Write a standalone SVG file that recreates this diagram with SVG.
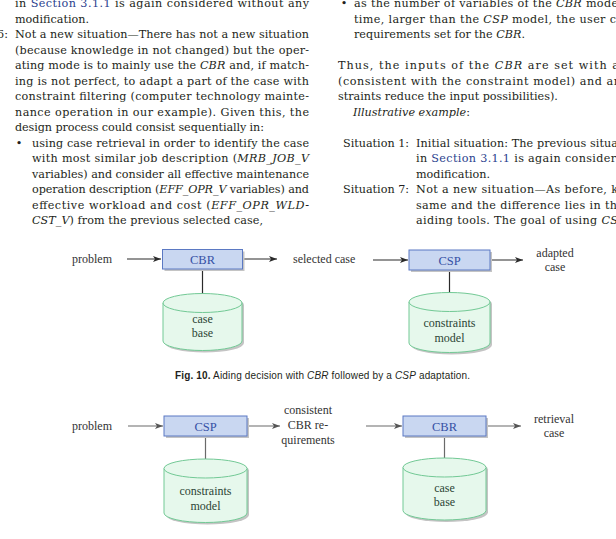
<svg xmlns="http://www.w3.org/2000/svg" width="616" height="539" viewBox="0 0 616 539">
<style>
.b{font-family:"DejaVu Serif","Liberation Serif",serif;font-size:11.2px;fill:#231f20}
.i{font-style:italic}
.lk{fill:#2b3f8e}
.cap{font-family:"Liberation Sans",Arial,sans-serif;font-size:10px;fill:#231f20}
.lbl{font-family:"Liberation Serif","Times New Roman",serif;font-size:12px;fill:#333}
.bt{font-family:"Liberation Serif","Times New Roman",serif;font-size:12.5px;fill:#3550a5;text-anchor:middle}
.ct{font-family:"Liberation Serif","Times New Roman",serif;font-size:12px;fill:#2c4535;text-anchor:middle}
.box{fill:#c9d7f1;stroke:#5b79c3;stroke-width:1}
.sh{fill:#c4c4c4}
.cyl{fill:#e6f8ec;stroke:#72c995;stroke-width:1}
.c1{stroke:#2a2a2a;stroke-width:1.2;fill:none}
.c2{stroke:#6a6a6a;stroke-width:1.2;fill:none}
</style>
<defs>
<marker id="a1" markerUnits="userSpaceOnUse" markerWidth="9" markerHeight="7" refX="8" refY="3.5" orient="auto"><path d="M0,0.5 L8,3.5 L0,6.5 L2,3.5 Z" fill="#2a2a2a"/></marker>
<marker id="a2" markerUnits="userSpaceOnUse" markerWidth="9" markerHeight="7" refX="8" refY="3.5" orient="auto"><path d="M0,0.5 L8,3.5 L0,6.5 L2,3.5 Z" fill="#555"/></marker>
</defs>
<rect width="616" height="539" fill="#fff"/>
<g id="left-column">
<text class="b" x="15" y="7" textLength="294" lengthAdjust="spacing">in <tspan class="lk">Section 3.1.1</tspan> is again considered without any</text>
<text class="b" x="15" y="22.5">modification.</text>
<text class="b" x="8" y="38" text-anchor="end">6:</text>
<text class="b" x="15" y="38" textLength="294" lengthAdjust="spacing">Not a new situation—There has not a new situation</text>
<text class="b" x="15" y="53.5" textLength="294" lengthAdjust="spacing">(because knowledge in not changed) but the oper-</text>
<text class="b" x="15" y="69" textLength="294" lengthAdjust="spacing">ating mode is to mainly use the <tspan class="i">CBR</tspan> and, if match-</text>
<text class="b" x="15" y="84.5" textLength="294" lengthAdjust="spacing">ing is not perfect, to adapt a part of the case with</text>
<text class="b" x="15" y="100" textLength="294" lengthAdjust="spacing">constraint filtering (computer technology mainte-</text>
<text class="b" x="15" y="115.5" textLength="294" lengthAdjust="spacing">nance operation in our example). Given this, the</text>
<text class="b" x="15" y="131" textLength="249" lengthAdjust="spacing">design process could consist sequentially in:</text>
<text class="b" x="19" y="146.5" text-anchor="middle">•</text>
<text class="b" x="32" y="146.5" textLength="277" lengthAdjust="spacing">using case retrieval in order to identify the case</text>
<text class="b" x="32" y="162" textLength="277" lengthAdjust="spacing">with most similar job description (<tspan class="i">MRB_JOB_V</tspan></text>
<text class="b" x="32" y="177.5" textLength="277" lengthAdjust="spacing">variables) and consider all effective maintenance</text>
<text class="b" x="32" y="193" textLength="277" lengthAdjust="spacing">operation description (<tspan class="i">EFF_OPR_V</tspan> variables) and</text>
<text class="b" x="32" y="208.5" textLength="277" lengthAdjust="spacing">effective workload and cost (<tspan class="i">EFF_OPR_WLD-</tspan></text>
<text class="b" x="32" y="224" textLength="231" lengthAdjust="spacing"><tspan class="i">CST_V</tspan>) from the previous selected case,</text>
</g>
<g id="right-column">
<text class="b" x="344" y="7" text-anchor="middle">•</text>
<text class="b" x="354" y="7" textLength="264" lengthAdjust="spacing">as the number of variables of the <tspan class="i">CBR</tspan> mode</text>
<text class="b" x="354" y="22.5" textLength="262" lengthAdjust="spacing">time, larger than the <tspan class="i">CSP</tspan> model, the user c</text>
<text class="b" x="354" y="38">requirements set for the <tspan class="i">CBR</tspan>.</text>
<text class="b" x="338" y="69" textLength="281" lengthAdjust="spacing">Thus, the inputs of the <tspan class="i">CBR</tspan> are set with a</text>
<text class="b" x="338" y="84.5" textLength="283" lengthAdjust="spacing">(consistent with the constraint model) and an</text>
<text class="b" x="338" y="100">straints reduce the input possibilities).</text>
<text class="b" x="353" y="115.5"><tspan class="i">Illustrative example</tspan>:</text>
<text class="b" x="343" y="146.5">Situation 1:</text>
<text class="b" x="416" y="146.5" textLength="202" lengthAdjust="spacing">Initial situation: The previous situa</text>
<text class="b" x="416" y="162" textLength="200" lengthAdjust="spacing">in <tspan class="lk">Section 3.1.1</tspan> is again consider</text>
<text class="b" x="416" y="177.5">modification.</text>
<text class="b" x="343" y="193">Situation 7:</text>
<text class="b" x="416" y="193" textLength="202" lengthAdjust="spacing">Not a new situation—As before, k</text>
<text class="b" x="416" y="208.5" textLength="201" lengthAdjust="spacing">same and the difference lies in th</text>
<text class="b" x="416" y="224" textLength="202" lengthAdjust="spacing">aiding tools. The goal of using <tspan class="i">CS</tspan></text>
</g>
<g id="connectors">
<line class="c1" x1="127" y1="259" x2="161" y2="259" marker-end="url(#a1)"/>
<line class="c1" x1="243" y1="259" x2="277" y2="259" marker-end="url(#a1)"/>
<line class="c1" x1="373" y1="260" x2="408" y2="260" marker-end="url(#a1)"/>
<line class="c1" x1="490" y1="260" x2="523" y2="260" marker-end="url(#a1)"/>
<line class="c1" x1="202.5" y1="269" x2="202.5" y2="294"/>
<line class="c1" x1="449.5" y1="270" x2="449.5" y2="293"/>
<line class="c2" x1="128" y1="426" x2="163" y2="426" marker-end="url(#a2)"/>
<line class="c2" x1="247" y1="426" x2="280" y2="426" marker-end="url(#a2)"/>
<line class="c2" x1="366" y1="426" x2="402" y2="426" marker-end="url(#a2)"/>
<line class="c2" x1="486" y1="426" x2="521" y2="426" marker-end="url(#a2)"/>
<line class="c2" x1="205.5" y1="436" x2="205.5" y2="459"/>
<line class="c2" x1="444.5" y1="436" x2="444.5" y2="458"/>
</g>
<g id="fig1-labels">
<text class="lbl" x="72" y="263">problem</text>
<text class="lbl" x="293" y="263">selected case</text>
<text class="lbl" x="555" y="257" text-anchor="middle">adapted</text>
<text class="lbl" x="555" y="271" text-anchor="middle">case</text>
</g>
<g id="fig1-cbr">
<rect class="sh" x="164.5" y="251.5" width="80" height="19.5"/>
<rect class="box" x="162.5" y="249.5" width="80" height="19.5"/>
<text class="bt" x="202.5" y="263.5">CBR</text>
</g>
<g id="fig1-casebase">
<path class="sh" d="M165,305 A39.5,9.5 0 0 1 244,305 L244,343 A39.5,9.5 0 0 1 165,343 Z"/>
<path class="cyl" d="M163,303 A39.5,9.5 0 0 1 242,303 L242,341 A39.5,9.5 0 0 1 163,341 Z"/>
<path class="cyl" fill="none" d="M163,303 A39.5,9.5 0 0 0 242,303"/>
<text class="ct" x="202.5" y="323">case</text>
<text class="ct" x="202.5" y="337">base</text>
</g>
<g id="fig1-csp">
<rect class="sh" x="411" y="252" width="81" height="20"/>
<rect class="box" x="409" y="250" width="81" height="20"/>
<text class="bt" x="449.5" y="264.5">CSP</text>
</g>
<g id="fig1-constraints">
<path class="sh" d="M411,304 A40.5,9.5 0 0 1 492,304 L492,345 A40.5,9.5 0 0 1 411,345 Z"/>
<path class="cyl" d="M409,302 A40.5,9.5 0 0 1 490,302 L490,343 A40.5,9.5 0 0 1 409,343 Z"/>
<path class="cyl" fill="none" d="M409,302 A40.5,9.5 0 0 0 490,302"/>
<text class="ct" x="449.5" y="327">constraints</text>
<text class="ct" x="449.5" y="342">model</text>
</g>
<g id="caption1">
<text class="cap" x="175" y="379" textLength="295" lengthAdjust="spacing"><tspan font-weight="bold">Fig. 10.</tspan> Aiding decision with <tspan class="i">CBR</tspan> followed by a <tspan class="i">CSP</tspan> adaptation.</text>
</g>
<g id="fig2-labels">
<text class="lbl" x="72" y="430">problem</text>
<text class="lbl" x="308" y="414" text-anchor="middle">consistent</text>
<text class="lbl" x="308" y="429" text-anchor="middle">CBR re-</text>
<text class="lbl" x="308" y="444" text-anchor="middle">quirements</text>
<text class="lbl" x="554" y="423" text-anchor="middle">retrieval</text>
<text class="lbl" x="554" y="437" text-anchor="middle">case</text>
</g>
<g id="fig2-csp">
<rect class="sh" x="166" y="418" width="83" height="20"/>
<rect class="box" x="164" y="416" width="83" height="20"/>
<text class="bt" x="205.5" y="430.5">CSP</text>
</g>
<g id="fig2-constraints">
<path class="sh" d="M166,470.5 A41.5,9.5 0 0 1 249,470.5 L249,515 A41.5,9.5 0 0 1 166,515 Z"/>
<path class="cyl" d="M164,468.5 A41.5,9.5 0 0 1 247,468.5 L247,513 A41.5,9.5 0 0 1 164,513 Z"/>
<path class="cyl" fill="none" d="M164,468.5 A41.5,9.5 0 0 0 247,468.5"/>
<text class="ct" x="205.5" y="495">constraints</text>
<text class="ct" x="205.5" y="510">model</text>
</g>
<g id="fig2-cbr">
<rect class="sh" x="405" y="418" width="83" height="20"/>
<rect class="box" x="403" y="416" width="83" height="20"/>
<text class="bt" x="444.5" y="430.5">CBR</text>
</g>
<g id="fig2-casebase">
<path class="sh" d="M405,469.5 A41.5,9.5 0 0 1 488,469.5 L488,512.5 A41.5,9.5 0 0 1 405,512.5 Z"/>
<path class="cyl" d="M403,467.5 A41.5,9.5 0 0 1 486,467.5 L486,510.5 A41.5,9.5 0 0 1 403,510.5 Z"/>
<path class="cyl" fill="none" d="M403,467.5 A41.5,9.5 0 0 0 486,467.5"/>
<text class="ct" x="444.5" y="492">case</text>
<text class="ct" x="444.5" y="506">base</text>
</g>
</svg>
